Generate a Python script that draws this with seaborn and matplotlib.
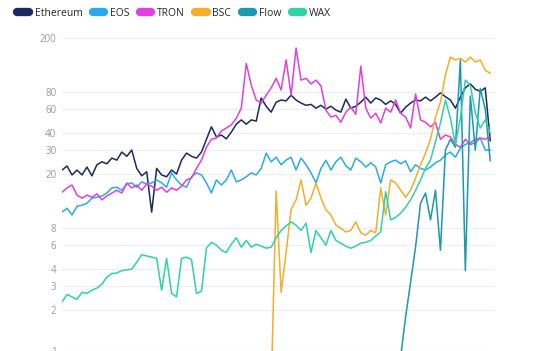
import numpy as np
import pandas as pd
import seaborn as sns
import matplotlib.pyplot as plt
from matplotlib.lines import Line2D

chains = ['Ethereum', 'EOS', 'TRON', 'BSC', 'Flow', 'WAX']
colors = ['#1b2a5e', '#2aaaee', '#e040e0', '#f5ad2a', '#1a9ab0', '#2ed3a6']

nan = np.nan

ethereum = [21.4, 22.9, 19.7, 21.4, 19.7, 22.5, 19.4, 23.4, 24.6, 23.8,
            26.2, 25.3, 29, 27, 30, 22, 19.4, 20.8, 10.5, 22,
            19.7, 19.1, 21.4, 20, 25.3, 28.5, 27, 26.2, 29, 36,
            44.5, 37.5, 38.7, 36.3, 40.7, 46.5, 50, 46.5, 50, 49,
            72.5, 63, 57, 67.5, 70, 69, 76, 70, 66.5, 64,
            65, 61, 64, 60, 63, 59, 57, 71, 61, 63,
            67.5, 73.5, 66.5, 72.5, 70, 65, 69, 65, 56, 62,
            66.5, 70, 69, 73.5, 69, 73.5, 79, 74, 70, 61,
            73.5, 86, 92, 84, 81, 86, 35]

eos = [10.5, 11.2, 10, 11.6, 11.8, 12.2, 13.3, 13.5, 13.8, 14.5,
       15.8, 16, 15.2, 16.9, 17.2, 16, 17.5, 16.9, 17.2, 18.1,
       17.2, 16, 20.4, 18.1, 16.6, 16, 19.1, 20.4, 19.7, 17.2,
       14.5, 18.1, 16.6, 18.1, 21.4, 17.5, 18.1, 19.1, 20.4, 19.7,
       22, 28.5, 24.6, 26.6, 23.4, 25.3, 26.6, 21.4, 26.2, 23.4,
       20.4, 17.2, 22, 25.3, 21.4, 24.6, 26.6, 23, 21.4, 26.2,
       24.6, 22.5, 24.2, 22.5, 17.2, 23.4, 24.6, 25.3, 23.8, 25,
       20.8, 23.4, 22, 21.4, 22.5, 24.2, 25.3, 27.6, 29, 26.6,
       31, 33, 34, 36, 36.8, 30, 30]

tron = [14.7, 15.8, 16.6, 14, 13.3, 14, 13.5, 14.3, 12.9, 13.8,
        14.5, 15.2, 14.5, 17.2, 15.8, 16.6, 15.2, 16.9, 16.3, 15.2,
        16, 14.7, 15.8, 15.2, 16.3, 18.1, 18.7, 22, 25.3, 31.5,
        36, 36.8, 41.5, 43.6, 46, 51.5, 61, 130, 90, 70,
        66.5, 76, 86, 101, 83, 138, 76, 169, 98, 101,
        92, 98, 89, 59, 52.5, 54, 48, 57, 62, 55,
        124, 61, 51.5, 56, 47.5, 61, 57, 70, 56, 52.5,
        43.6, 77.5, 50, 48, 44.5, 48, 36, 38.7, 37.5, 33,
        31.5, 36, 33, 34, 36.8, 36, 38]

bsc = [nan] * 42 + [
       0.5, 15, 2.7, 5.3, 11, 12.9, 18.1, 11.8,
       13.3, 17.2, 13.3, 10.9, 10, 8.4, 8, 7.5, 7.7, 8.9,
       7.4, 7.1, 7.7, 7.4, 15.8, 10, 18.1, 17.2, 15.2, 13.5,
       15.2, 18.7, 23.4, 28.5, 36, 52.5, 67.5, 107, 145, 138,
       142, 133, 145, 133, 138, 116, 110]

flow = [nan] * 68 + [
        0.9, 1.78,
        3.2, 5.8, 12.2, 14.5, 9.2, 15.2, 5.5, 30, 36, 31.5,
        138, 3.9, 75, 30, 85, 60, 25]

wax = [2.3, 2.6, 2.5, 2.4, 2.7, 2.65, 2.8, 2.9, 3.1, 3.5,
       3.7, 3.75, 3.9, 3.95, 4.0, 4.5, 5.1, 5.0, 4.9, 4.8,
       2.8, 4.8, 2.65, 2.5, 4.8, 4.9, 4.7, 2.65, 2.75, 5.7,
       6.3, 6.0, 5.5, 5.3, 6.1, 6.8, 5.8, 6.5, 5.8, 6.1,
       5.9, 5.7, 5.8, 6.8, 7.7, 8.3, 8.9, 8.4, 7.7, 8.7,
       5.3, 7.7, 6.8, 6.0, 7.7, 6.5, 6.2, 5.9, 5.7, 5.9,
       6.2, 6.3, 6.5, 7.0, 7.5, 14.8, 9.2, 9.6, 10.3, 11.4,
       12.9, 15.2, 18.1, 22, 25.3, 34.5, 47.5, 70, 51.5, 33,
       51.5, 98, 90, 56, 43.6, 50, 40]

yticks = [1, 2, 3, 4, 6, 8, 20, 30, 40, 60, 80, 200]

series = dict(zip(chains, [ethereum, eos, tron, bsc, flow, wax]))
rows = []
for name, vals in series.items():
    for i, v in enumerate(vals):
        rows.append({'period': i, 'value': v, 'chain': name})
df = pd.DataFrame(rows).dropna()

sns.set_style('white')
plt.rcParams['font.family'] = ['Open Sans', 'DejaVu Sans']

fig = plt.figure(figsize=(5.54, 3.51), dpi=100)
ax = fig.add_axes([0.112, -0.02, 0.781, 0.9345])

sns.lineplot(data=df, x='period', y='value', hue='chain', hue_order=chains,
             palette=colors, estimator=None, linewidth=1.1, legend=False, ax=ax)

ax.set_yscale('log')
ax.set_ylim(0.888, 229)
ax.set_xlim(0, 86.9)
ax.set_yticks(yticks)
ax.set_yticklabels([str(t) for t in yticks])
ax.yaxis.set_minor_locator(plt.NullLocator())
ax.set_xticks([])
ax.set_xlabel('')
ax.set_ylabel('')
ax.tick_params(axis='y', length=0, pad=4, labelsize=7, labelcolor='#999999')
ax.grid(axis='y', color='#eeeeee', linewidth=0.8)
ax.set_axisbelow(True)
for s in ax.spines.values():
    s.set_visible(False)

handles = [Line2D([0], [0], color=c, linewidth=6, solid_capstyle='round')
           for c in colors]
fig.legend(handles, chains, loc='upper left', bbox_to_anchor=(0.02, 0.995),
           ncol=6, frameon=False, fontsize=7.5, handlelength=1.1,
           handletextpad=0.55, columnspacing=1.0, borderaxespad=0.2)

fig.savefig('out.png', dpi=100)
